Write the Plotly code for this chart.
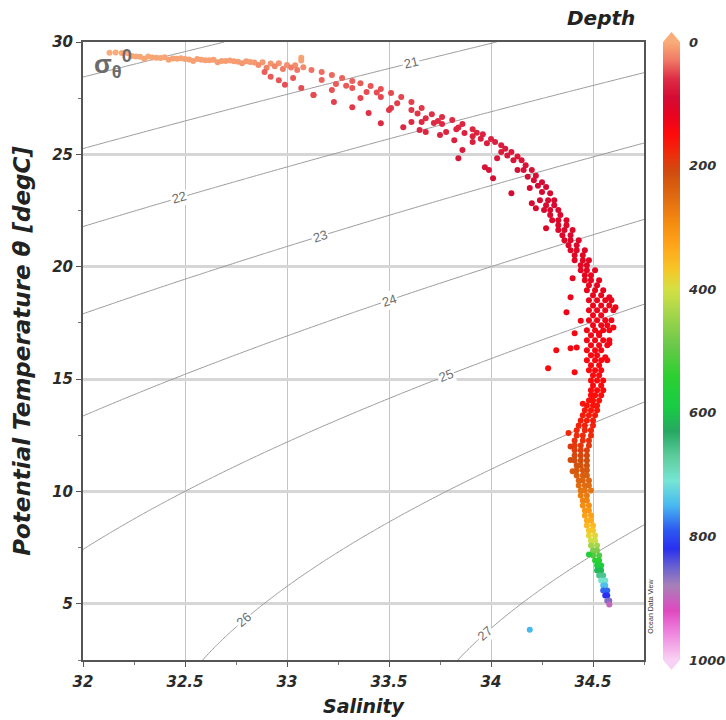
import math

import numpy as np
import plotly.graph_objects as go

FONT = "Liberation Sans, Arial, sans-serif"
BOLD_FONT = "DejaVu Sans, Verdana, sans-serif"

# ---- surface mixed layer (flat points) ----
mixed_sal = [32.13, 32.16, 32.19, 32.22,
             32.24, 32.28, 32.32, 32.36, 32.40, 32.44, 32.48, 32.52, 32.56, 32.60, 32.64,
             32.68, 32.72, 32.76, 32.80, 32.84, 32.88, 32.92, 32.96, 33.00, 33.04, 33.08,
             33.07, 33.07, 32.90, 32.98, 33.05,
             32.89, 32.92, 32.96, 32.99, 33.03, 33.07, 33.13,
             32.30, 32.42, 32.54, 32.66, 32.78, 32.86, 32.94, 33.02,
             32.26, 32.34, 32.38, 32.46, 32.50, 32.58, 32.62, 32.70, 32.74, 32.82]
mixed_temp = [29.52, 29.53, 29.51, 29.50,
              29.38, 29.34, 29.36, 29.30, 29.32, 29.27, 29.28, 29.22, 29.24, 29.19, 29.21,
              29.16, 29.18, 29.12, 29.14, 29.09, 29.10, 29.04, 29.05, 28.98, 28.96, 28.88,
              29.30, 29.18, 28.85, 28.80, 28.75,
              28.66, 28.45, 28.30, 28.10, 28.40, 27.95, 27.64,
              29.26, 29.21, 29.16, 29.10, 29.05, 28.98, 28.92, 28.86,
              29.35, 29.31, 29.29, 29.26, 29.24, 29.21, 29.19, 29.16, 29.14, 29.11]
mixed_depth = [0, 0, 1, 1,
               2, 3, 3, 4, 4, 5, 5, 6, 6, 7, 7,
               8, 8, 9, 10, 11, 12, 13, 14, 16, 18, 20,
               5, 6, 25, 28, 30,
               40, 42, 44, 46, 43, 47, 49,
               4, 5, 7, 9, 12, 18, 22, 26,
               3, 4, 4, 5, 6, 7, 7, 8, 9, 10]

# ---- upper thermocline (flat points) ----
upper_sal = [33.12, 33.17, 33.22, 33.27, 33.32, 33.36, 33.41, 33.46, 33.51, 33.56, 33.61, 33.66, 33.71,
             33.76, 33.81, 33.86, 33.91, 33.96, 34.00, 34.05, 34.10, 34.15, 34.20, 34.25, 34.29,
             33.17, 33.24, 33.32, 33.39, 33.46, 33.54, 33.61, 33.68, 33.76, 33.83, 33.91, 33.98,
             34.05, 34.11, 34.16, 34.21, 34.25,
             33.22, 33.36, 33.51, 33.66, 33.78, 33.91, 34.03, 34.13, 34.19,
             33.13, 33.23, 33.32, 33.40, 33.46, 33.50, 33.57, 33.61, 33.65, 33.68, 33.75, 33.82,
             33.86, 33.84, 33.97, 33.99, 34.01, 34.10, 34.20,
             33.72, 33.87, 33.95, 34.08, 34.18, 34.23, 33.44, 33.29,
             33.64, 33.74, 33.84, 33.93, 34.02, 34.07, 34.13, 34.17, 34.22, 34.27]
upper_temp = [28.75, 28.66, 28.53, 28.40, 28.26, 28.17, 28.04, 27.91, 27.73, 27.55, 27.33, 27.06, 26.79,
              26.66, 26.53, 26.35, 26.12, 25.90, 25.68, 25.41, 25.10, 24.74, 24.30, 23.76, 23.27,
              28.31, 28.13, 27.95, 27.77, 27.55, 27.28, 26.97, 26.61, 26.35, 26.12, 25.81, 25.50,
              25.10, 24.74, 24.30, 23.85, 23.32,
              27.86, 27.51, 27.06, 26.44, 25.99, 25.55, 24.83, 24.30, 23.50,
              27.64, 27.33, 27.10, 26.84, 26.39, 26.97, 26.21, 26.44, 26.08, 25.99, 25.86, 25.63,
              25.19, 24.83, 24.43, 24.30, 23.94, 23.27, 22.83,
              26.40, 25.95, 25.70, 24.95, 24.00, 23.60, 27.75, 28.05,
              26.82, 26.48, 26.20, 25.96, 25.55, 25.25, 24.90, 24.52, 24.05, 23.55]
upper_depth = [32, 34, 36, 38, 40, 42, 44, 46, 48, 50, 52, 55, 58,
               60, 62, 64, 66, 68, 70, 73, 76, 80, 84, 88, 92,
               38, 41, 44, 47, 50, 53, 56, 60, 63, 66, 69, 72,
               76, 80, 84, 88, 92,
               45, 50, 55, 62, 67, 72, 79, 84, 90,
               48, 52, 55, 58, 62, 57, 64, 62, 66, 67, 68, 70,
               74, 78, 82, 83, 86, 92, 95,
               62, 68, 70, 78, 86, 90, 47, 42,
               57, 61, 64, 67, 71, 74, 78, 82, 86, 90]

# ---- main thermocline: temperature levels with salinities read along each level ----
mid_levels = [22.96, 22.74, 22.52, 22.30, 22.07, 21.85, 21.63, 21.40, 21.18, 20.96,
              20.73, 20.51, 20.29, 20.07, 19.84, 19.62, 19.40, 19.18, 18.95, 18.73,
              18.51, 18.28, 18.06, 17.84, 17.62, 17.40, 17.17, 16.95, 16.73, 16.51,
              16.28, 16.06, 15.84, 15.62, 15.39, 15.17, 14.94, 14.72, 14.50]
mid_sal = [[34.24, 34.28, 34.31], [34.27, 34.31], [34.26, 34.29, 34.33], [34.29, 34.34],
           [34.30, 34.33, 34.37], [34.33, 34.37], [34.33, 34.36, 34.40], [34.35, 34.39],
           [34.36, 34.39, 34.43], [34.38, 34.42], [34.39, 34.42, 34.46], [34.41, 34.45],
           [34.41, 34.45, 34.48], [34.44, 34.47], [34.44, 34.47, 34.51], [34.46, 34.49],
           [34.46, 34.49, 34.53], [34.48, 34.52], [34.47, 34.51, 34.55], [34.50, 34.54],
           [34.48, 34.52, 34.56, 34.59], [34.50, 34.54, 34.58], [34.48, 34.52, 34.56, 34.60],
           [34.50, 34.54], [34.48, 34.52, 34.56, 34.59], [34.50, 34.54, 34.57],
           [34.47, 34.51, 34.55, 34.58], [34.49, 34.53], [34.47, 34.51, 34.55, 34.58],
           [34.49, 34.53, 34.57], [34.47, 34.51, 34.54], [34.49, 34.52],
           [34.47, 34.51, 34.54, 34.57], [34.49, 34.53], [34.48, 34.51, 34.54], [34.50, 34.53],
           [34.49, 34.52, 34.55], [34.50, 34.54], [34.49, 34.52, 34.55]]
mid_depth = [95, 97, 98, 100, 101, 103, 104, 105, 107, 108,
             110, 111, 113, 114, 116, 117, 118, 120, 121, 123,
             124, 126, 127, 129, 130, 131, 133, 134, 136, 137,
             139, 140, 141, 143, 144, 146, 147, 148, 150]

mid_out_sal = [34.27, 34.40, 34.39, 34.37, 34.41, 34.32, 34.39, 34.28, 34.42, 34.61,
               34.58, 34.58, 34.56, 34.60, 34.41, 34.53, 34.22, 34.44]
mid_out_temp = [21.71, 19.49, 18.64, 17.97, 17.04, 16.28, 16.37, 15.48, 16.41, 18.20,
                18.64, 16.59, 15.97, 17.30, 15.30, 17.04, 22.60, 17.60]
mid_out_depth = [104, 118, 122, 127, 133, 139, 138, 145, 137, 127,
                 122, 136, 140, 133, 146, 133, 97, 130]

# ---- lower thermocline ----
low_levels = [14.28, 14.05, 13.83, 13.61, 13.39, 13.16, 12.94, 12.72, 12.49, 12.27,
              12.05, 11.83, 11.60, 11.38, 11.16, 10.94, 10.71, 10.49, 10.27, 10.04,
              9.82, 9.60, 9.38, 9.15, 8.93, 8.71, 8.49, 8.26, 8.04, 7.82]
low_sal = [[34.49, 34.51, 34.54], [34.48, 34.50, 34.53], [34.47, 34.50, 34.52],
           [34.46, 34.49, 34.52], [34.45, 34.48, 34.51], [34.44, 34.47, 34.50],
           [34.43, 34.46, 34.50], [34.42, 34.46, 34.49], [34.42, 34.45, 34.49],
           [34.41, 34.45, 34.48], [34.41, 34.44, 34.48], [34.41, 34.44, 34.47],
           [34.41, 34.44, 34.47], [34.41, 34.44, 34.47], [34.42, 34.44, 34.47],
           [34.42, 34.45, 34.47], [34.42, 34.45, 34.47], [34.43, 34.45, 34.48],
           [34.43, 34.46, 34.48], [34.44, 34.46, 34.49],
           [34.44, 34.47], [34.45, 34.47], [34.45, 34.48], [34.46, 34.48], [34.46, 34.49],
           [34.47, 34.49], [34.47, 34.50], [34.48, 34.50], [34.48, 34.51], [34.49, 34.51]]
low_depth = [152, 155, 158, 161, 164, 167, 170, 174, 178, 184,
             190, 197, 204, 211, 218, 226, 234, 243, 252, 262,
             272, 283, 295, 308, 322, 337, 352, 368, 385, 405]

low_out_sal = [34.38, 34.39, 34.39, 34.40, 34.45]
low_out_temp = [12.60, 12.00, 11.40, 10.90, 13.90]
low_out_depth = [176, 192, 210, 228, 157]

# ---- intermediate water ----
deep_levels = [7.60, 7.37, 7.15, 6.93, 6.70, 6.48, 6.26, 6.04, 5.81, 5.59, 5.37, 5.14, 4.97]
deep_sal = [[34.49, 34.52], [34.50, 34.52], [34.50, 34.53], [34.51, 34.53], [34.52, 34.54],
            [34.52, 34.54], [34.53, 34.55], [34.54, 34.56], [34.55, 34.56], [34.55, 34.57],
            [34.56, 34.57], [34.57, 34.58], [34.58]]
deep_depth = [440, 475, 510, 545, 575, 610, 660, 705, 745, 785, 820, 860, 900]

deep_out_sal = [34.48, 34.19]
deep_out_temp = [7.19, 3.85]
deep_out_depth = [560, 750]

# ODV-like depth palette
depth_stops = [0, 30, 60, 90, 120, 150, 180, 210, 250, 290, 330, 370, 400, 440, 490,
               540, 590, 630, 670, 710, 750, 790, 820, 850, 880, 920, 960, 1000]
stop_colors = ["#f9ac78", "#f07864", "#de2c44", "#d40a34", "#e8041e", "#ff0a0a", "#ee2c0a",
               "#d04c0e", "#e06a10", "#f38a10", "#ffa51a", "#f5c828", "#d4e042", "#a4d64a",
               "#6cc84a", "#2cd030", "#18cc44", "#26a862", "#5ccc9c", "#76e6d4", "#48b8f0",
               "#2c58f0", "#2a30f0", "#6a62d0", "#a880b8", "#e048c0", "#f08ce0", "#f8d2f4"]

depth_ticks = [0, 200, 400, 600, 800, 1000]

# isopycnal labels: level and the salinity where the label sits
label_levels = [21, 22, 23, 24, 25, 26, 27]
label_sal = [33.61, 32.47, 33.16, 33.50, 33.78, 32.79, 33.97]

S_RANGE = [32, 34.75]
T_RANGE = [2.5, 30]
MARGIN = dict(l=83, r=82, t=42, b=60, autoexpand=False)
W, H = 726, 720


def expand(levels, rows, depths):
    s, t, d = [], [], []
    for lev, row, dep in zip(levels, rows, depths):
        for v in row:
            s.append(v)
            t.append(lev)
            d.append(dep)
    return s, t, d


def sigma0(S, T):
    """UNESCO 1983 density of seawater at p=0, minus 1000."""
    rw = (999.842594 + 6.793952e-2 * T - 9.095290e-3 * T**2 + 1.001685e-4 * T**3
          - 1.120083e-6 * T**4 + 6.536332e-9 * T**5)
    a = 0.824493 - 4.0899e-3 * T + 7.6438e-5 * T**2 - 8.2467e-7 * T**3 + 5.3875e-9 * T**4
    b = -5.72466e-3 + 1.0227e-4 * T - 1.6546e-6 * T**2
    c = 4.8314e-4
    return rw + a * S + b * S**1.5 + c * S**2 - 1000.0


def temp_on_isopycnal(level, S):
    lo, hi = -2.0, 40.0  # sigma decreases with T here
    for _ in range(60):
        mid = 0.5 * (lo + hi)
        if sigma0(S, mid) > level:
            lo = mid
        else:
            hi = mid
    return 0.5 * (lo + hi)


sal, temp, depth = [], [], []
for s_, t_, d_ in [
    (mixed_sal, mixed_temp, mixed_depth),
    (upper_sal, upper_temp, upper_depth),
    expand(mid_levels, mid_sal, mid_depth),
    (mid_out_sal, mid_out_temp, mid_out_depth),
    expand(low_levels, low_sal, low_depth),
    (low_out_sal, low_out_temp, low_out_depth),
    expand(deep_levels, deep_sal, deep_depth),
    (deep_out_sal, deep_out_temp, deep_out_depth),
]:
    sal += list(s_)
    temp += list(t_)
    depth += list(d_)

# colorbar runs 0 at top -> use negative depth
colorscale = sorted([[1 - d / 1000.0, c] for d, c in zip(depth_stops, stop_colors)])

sg = np.linspace(S_RANGE[0], S_RANGE[1], 200)
tg = np.linspace(T_RANGE[0], T_RANGE[1], 200)
SS, TT = np.meshgrid(sg, tg)
ZZ = sigma0(SS, TT)

plot_w = W - MARGIN["l"] - MARGIN["r"]
plot_h = H - MARGIN["t"] - MARGIN["b"]
cb_x0 = (663 - MARGIN["l"]) / plot_w
cb_x1 = (680 - MARGIN["l"]) / plot_w
cb_mid = 0.5 * (cb_x0 + cb_x1)
arrow_h = 10 / plot_h

fig = go.Figure()
gray = [[0, "#9a9a9a"], [1, "#9a9a9a"]]
fig.add_trace(go.Contour(
    x=sg, y=tg, z=ZZ, showscale=False, colorscale=gray, hoverinfo="skip",
    contours=dict(start=20, end=27, size=1, coloring="lines", showlabels=False),
    line=dict(width=1),
))

fig.add_trace(go.Scatter(
    x=sal, y=temp, mode="markers", showlegend=False,
    marker=dict(
        size=6, color=[-d for d in depth], colorscale=colorscale, cmin=-1000, cmax=0,
        line=dict(width=0),
        colorbar=dict(
            x=cb_x0, xanchor="left", xpad=0, y=0.5, yanchor="middle", len=1, ypad=0,
            thickness=17, outlinewidth=0, ticks="outside", ticklen=7,
            tickcolor="rgba(0,0,0,0)",
            tickvals=[-d for d in depth_ticks], ticktext=[str(d) for d in depth_ticks],
            tickfont=dict(family=BOLD_FONT, size=13, color="#333", weight="bold", style="italic"),
        ),
    ),
    hovertemplate="S=%{x}<br>θ=%{y}<extra></extra>",
))

# isopycnal labels sitting on the lines, rotated along them
px_per_s = plot_w / (S_RANGE[1] - S_RANGE[0])
px_per_t = plot_h / (T_RANGE[1] - T_RANGE[0])
for lev, s_lab in zip(label_levels, label_sal):
    t_lab = temp_on_isopycnal(lev, s_lab)
    ds = 0.01
    slope = (temp_on_isopycnal(lev, s_lab + ds) - temp_on_isopycnal(lev, s_lab - ds)) / (2 * ds)
    angle = -math.degrees(math.atan(slope * px_per_t / px_per_s))
    fig.add_annotation(x=s_lab, y=t_lab, xref="x", yref="y", text=str(lev), showarrow=False,
                       textangle=angle, bgcolor="white", borderpad=1,
                       font=dict(family=FONT, size=13, color="#6e6e6e"))

tickfont = dict(family=BOLD_FONT, size=15, color="#2b2b2b", weight="bold", style="italic")
xtitlefont = dict(family=BOLD_FONT, size=19, color="#222", weight="bold", style="italic")
ytitlefont = dict(family=BOLD_FONT, size=23, color="#222", weight="bold", style="italic")

fig.update_xaxes(
    range=S_RANGE, tick0=32, dtick=0.5, showgrid=True, gridcolor="#c4c4c4", gridwidth=1,
    zeroline=False, showline=True, linecolor="#555", linewidth=2, mirror=True,
    ticks="outside", ticklen=5, tickcolor="#555", tickfont=tickfont, ticklabelstandoff=2,
    minor=dict(dtick=0.25, ticks="outside", ticklen=3, tickcolor="#777", showgrid=False),
    title=dict(text="Salinity", font=xtitlefont, standoff=10),
)
fig.update_yaxes(
    range=T_RANGE, tick0=0, dtick=5, showgrid=True, gridcolor="#d6d6d6", gridwidth=3,
    zeroline=False, showline=True, linecolor="#555", linewidth=2, mirror=True,
    ticks="outside", ticklen=5, tickcolor="#555", tickfont=tickfont,
    minor=dict(dtick=2.5, ticks="outside", ticklen=3, tickcolor="#777", showgrid=False),
    title=dict(text="Potential Temperature θ [degC]", font=ytitlefont, standoff=15),
)

# colorbar end arrows
fig.add_shape(type="path", xref="paper", yref="paper", line=dict(width=0), fillcolor="#f9ac78",
              path=f"M {cb_x0} 1 L {cb_x1} 1 L {cb_mid} {1 + arrow_h} Z")
fig.add_shape(type="path", xref="paper", yref="paper", line=dict(width=0), fillcolor="#f8d2f4",
              path=f"M {cb_x0} 0 L {cb_x1} 0 L {cb_mid} {-arrow_h} Z")

fig.add_annotation(x=(637 - MARGIN["l"]) / plot_w, y=1.039, xref="paper", yref="paper",
                   xanchor="right", yanchor="middle", text="Depth", showarrow=False,
                   font=dict(family=BOLD_FONT, size=20, color="#222", weight="bold", style="italic"))
fig.add_annotation(x=(651 - MARGIN["l"]) / plot_w, y=0.086, xref="paper", yref="paper",
                   xanchor="center", yanchor="middle", text="Ocean Data View", textangle=-90,
                   showarrow=False, font=dict(family=FONT, size=7, color="#333"))
fig.add_annotation(x=32.045, y=29.0, xref="x", yref="y", xanchor="left", yanchor="middle",
                   text="σ<sub>θ</sub><sup>0</sup>", showarrow=False,
                   font=dict(family=FONT, size=26, color="#6b6b6b", weight="bold"))

fig.update_layout(
    width=W, height=H,
    margin=MARGIN,
    paper_bgcolor="white", plot_bgcolor="white",
    showlegend=False,
)

# drop the default page margin so the figure sits at the window origin
fig.write_html("out.html", config={"displayModeBar": False},
               post_script="document.body.style.margin = '0';")
